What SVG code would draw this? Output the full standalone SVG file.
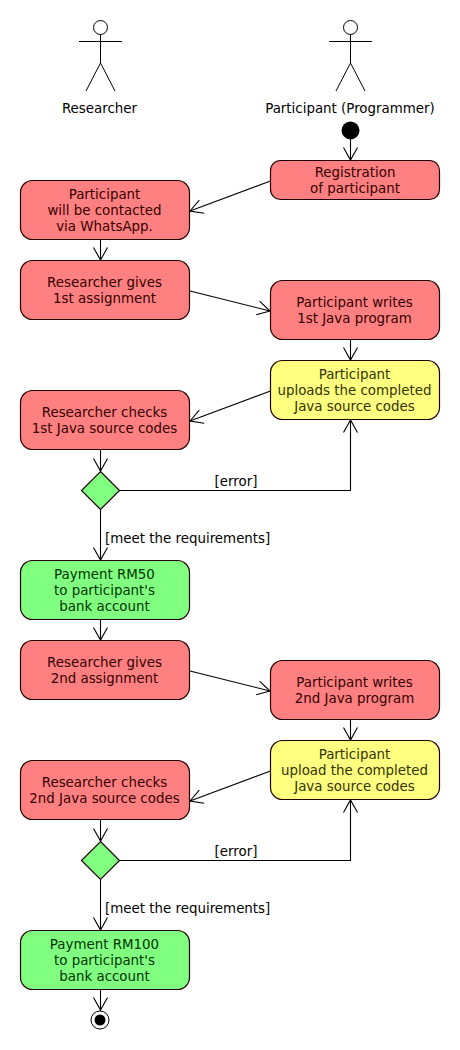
<svg xmlns="http://www.w3.org/2000/svg" width="460" height="1050" viewBox="0 0 460 1050">
<style>
text{font-family:"DejaVu Sans",sans-serif;font-size:13.4px;text-anchor:middle;fill:#000}
.n{fill:#300}
.y{fill:#330}
.g{fill:#030}
.l{text-anchor:start}
.red,.yel,.grn{stroke:#200;stroke-width:1.2}
.red{fill:#ff8080}.yel{fill:#ffff80}.grn{fill:#80ff80}
.actor *{fill:none;stroke:#000;stroke-width:1}
#connectors path{fill:none;stroke:#000;stroke-width:1.1}
#connectors path.a{marker-end:url(#arrow)}
</style>
<defs>
<marker id="arrow" markerUnits="userSpaceOnUse" markerWidth="18" markerHeight="18" refX="13.500" refY="7.500" orient="auto">
<path d="M1 0.500L13.500 7.500L1 14.500" fill="none" stroke="#000" stroke-width="1.1"/>
</marker>
</defs>
<rect width="460" height="1050" fill="#fff"/>
<g id="connectors">
<path class="a" d="M350.500 136V160"/>
<path class="a" d="M270.500 181L190 211"/>
<path class="a" d="M100.500 240V260"/>
<path class="a" d="M190 291L270 311"/>
<path class="a" d="M350.500 340V360"/>
<path class="a" d="M270.500 391L190 421"/>
<path class="a" d="M100.500 450V471"/>
<path class="a" d="M120 490.500H350.500V420"/>
<path class="a" d="M100.500 510V560"/>
<path class="a" d="M100.500 620V640"/>
<path class="a" d="M190 671L270 691"/>
<path class="a" d="M350.500 720V740"/>
<path class="a" d="M270.500 771L190 801"/>
<path class="a" d="M100.500 820V841"/>
<path class="a" d="M120 860.500H350.500V800"/>
<path class="a" d="M100.500 880V930"/>
<path class="a" d="M100.500 990V1010"/>
</g>
<g id="actor-researcher" class="actor">
<circle cx="100.500" cy="27.500" r="7"/>
<path d="M100.500 34.500V63M79 41.500H122M86 91L100.500 63L115 91"/>
</g>
<text x="99.500" y="113">Researcher</text>
<g id="actor-participant" class="actor">
<circle cx="350.500" cy="27.500" r="7"/>
<path d="M350.500 34.500V63M329 41.500H372M336 91L350.500 63L365 91"/>
</g>
<text x="350" y="113">Participant (Programmer)</text>
<g id="start"><circle cx="350.500" cy="130.500" r="9" fill="#000"/></g>
<g id="n1"><rect class="red" x="270.500" y="160.500" width="169" height="39" rx="10"/><text class="n" x="355" y="177">Registration</text><text class="n" x="355" y="193">of participant</text></g>
<g id="n2"><rect class="red" x="20.500" y="180.500" width="169" height="59" rx="12"/><text class="n" x="104.500" y="199">Participant</text><text class="n" x="104.500" y="215">will be contacted</text><text class="n" x="104.500" y="231">via WhatsApp.</text></g>
<g id="n3"><rect class="red" x="20.500" y="260.500" width="169" height="59" rx="12"/><text class="n" x="104.500" y="287">Researcher gives</text><text class="n" x="104.500" y="303">1st assignment</text></g>
<g id="n4"><rect class="red" x="270.500" y="280.500" width="169" height="59" rx="12"/><text class="n" x="354.500" y="307">Participant writes</text><text class="n" x="354.500" y="323">1st Java program</text></g>
<g id="n5"><rect class="yel" x="270.500" y="360.500" width="169" height="59" rx="12"/><text class="y" x="354.500" y="379">Participant</text><text class="y" x="354.500" y="395">uploads the completed</text><text class="y" x="354.500" y="411">Java source codes</text></g>
<g id="n6"><rect class="red" x="20.500" y="390.500" width="169" height="59" rx="12"/><text class="n" x="104.500" y="417">Researcher checks</text><text class="n" x="104.500" y="433">1st Java source codes</text></g>
<g id="d1"><path class="grn" d="M100.500 471.500L119.500 490.500L100.500 509.500L81.500 490.500Z"/></g>
<text x="236" y="486">[error]</text>
<text class="l" x="105" y="543">[meet the requirements]</text>
<g id="n7"><rect class="grn" x="20.500" y="560.500" width="169" height="59" rx="12"/><text class="g" x="104.500" y="579">Payment RM50</text><text class="g" x="104.500" y="595">to participant's</text><text class="g" x="104.500" y="611">bank account</text></g>
<g id="n8"><rect class="red" x="20.500" y="640.500" width="169" height="59" rx="12"/><text class="n" x="104.500" y="667">Researcher gives</text><text class="n" x="104.500" y="683">2nd assignment</text></g>
<g id="n9"><rect class="red" x="270.500" y="660.500" width="169" height="59" rx="12"/><text class="n" x="354.500" y="687">Participant writes</text><text class="n" x="354.500" y="703">2nd Java program</text></g>
<g id="n10"><rect class="yel" x="270.500" y="740.500" width="169" height="59" rx="12"/><text class="y" x="354.500" y="759">Participant</text><text class="y" x="354.500" y="775">upload the completed</text><text class="y" x="354.500" y="791">Java source codes</text></g>
<g id="n11"><rect class="red" x="20.500" y="760.500" width="169" height="59" rx="12"/><text class="n" x="104.500" y="787">Researcher checks</text><text class="n" x="104.500" y="803">2nd Java source codes</text></g>
<g id="d2"><path class="grn" d="M100.500 841.500L119.500 860.500L100.500 879.500L81.500 860.500Z"/></g>
<text x="236" y="856">[error]</text>
<text class="l" x="105" y="913">[meet the requirements]</text>
<g id="n12"><rect class="grn" x="20.500" y="930.500" width="169" height="59" rx="12"/><text class="g" x="104.500" y="949">Payment RM100</text><text class="g" x="104.500" y="965">to participant's</text><text class="g" x="104.500" y="981">bank account</text></g>
<g id="end"><circle cx="100" cy="1020" r="9" fill="#fff" stroke="#000" stroke-width="1"/><circle cx="100" cy="1020" r="5.500" fill="#000"/></g>
</svg>
